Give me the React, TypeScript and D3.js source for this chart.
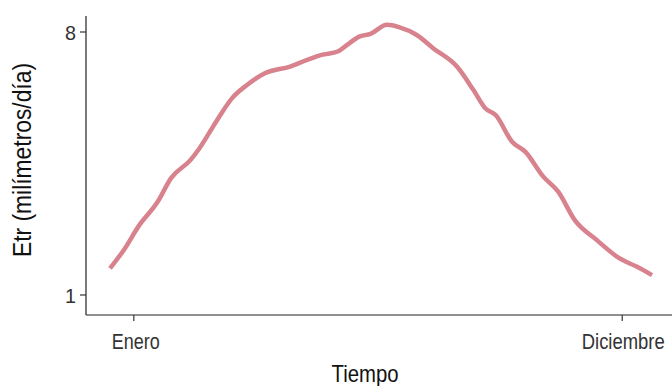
import React from "react";
import * as d3 from "d3";

const days = [1, 11, 20, 33, 42, 55, 61, 73, 83, 93, 105, 122, 133, 143, 154, 160, 168, 176, 187, 195, 207, 218, 234, 245, 253, 260, 271, 280, 292, 302, 313, 328, 343, 355, 365];
const etr = [1.71, 2.24, 2.82, 3.48, 4.11, 4.59, 4.9, 5.66, 6.24, 6.59, 6.9, 7.08, 7.25, 7.39, 7.48, 7.65, 7.87, 7.95, 8.19, 8.13, 7.92, 7.57, 7.08, 6.46, 5.97, 5.79, 5.08, 4.81, 4.15, 3.75, 3.0, 2.46, 1.98, 1.75, 1.53];
const xTickDays = [17, 345];
const xTickLabels = ["Enero", "Diciembre"];
const xTickWidths = [48, 83];
const yTicks = [1, 8];

const W = 672;
const H = 386;
const FONT = "'Liberation Sans', Arial, sans-serif";

export default function App() {
  const x = d3.scaleLinear().domain([1, 365]).range([110, 652]);
  const y = d3.scaleLinear().domain([1, 8]).range([295, 32]);
  const left = 86;
  const top = 16;
  const bottom = 315;
  const pts = days.map((d, i) => [d, etr[i]] as [number, number]);
  const line = d3
    .line<[number, number]>()
    .x((d) => x(d[0]))
    .y((d) => y(d[1]))
    .curve(d3.curveMonotoneX);
  return (
    <svg width={W} height={H} style={{ position: "absolute", left: 0, top: 0, background: "#fff" }}>
      <path d={line(pts) || ""} fill="none" stroke="#d8828d" strokeWidth={4.5} strokeLinejoin="round" />
      <line x1={left} x2={W} y1={bottom} y2={bottom} stroke="#222" strokeWidth={1.2} />
      <line x1={left} x2={left} y1={top} y2={bottom} stroke="#222" strokeWidth={1.2} />
      {yTicks.map((t) => (
        <g key={t}>
          <line x1={left - 6} x2={left} y1={y(t)} y2={y(t)} stroke="#333" strokeWidth={1.2} />
          <text
            x={left - 10}
            y={y(t)}
            dy="0.36em"
            textAnchor="end"
            fontFamily={FONT}
            fontSize={21}
            fill="#333"
            textLength={11}
            lengthAdjust="spacingAndGlyphs"
          >
            {t}
          </text>
        </g>
      ))}
      {xTickDays.map((d, i) => (
        <g key={d}>
          <line x1={x(d)} x2={x(d)} y1={bottom} y2={bottom + 6} stroke="#333" strokeWidth={1.2} />
          <text
            transform={`translate(${x(d) + (i === 0 ? 2 : 1)},349) scale(1,1.16)`}
            textAnchor="middle"
            fontFamily={FONT}
            fontSize={19}
            fill="#333"
            textLength={xTickWidths[i]}
            lengthAdjust="spacingAndGlyphs"
          >
            {xTickLabels[i]}
          </text>
        </g>
      ))}
      <text
        x={365}
        y={382}
        textAnchor="middle"
        fontFamily={FONT}
        fontSize={24}
        fill="#111"
        textLength={67}
        lengthAdjust="spacingAndGlyphs"
      >
        Tiempo
      </text>
      <text
        transform={`translate(31,160) rotate(-90)`}
        textAnchor="middle"
        fontFamily={FONT}
        fontSize={25}
        fill="#111"
        textLength={194}
        lengthAdjust="spacingAndGlyphs"
      >
        Etr (milímetros/día)
      </text>
    </svg>
  );
}
